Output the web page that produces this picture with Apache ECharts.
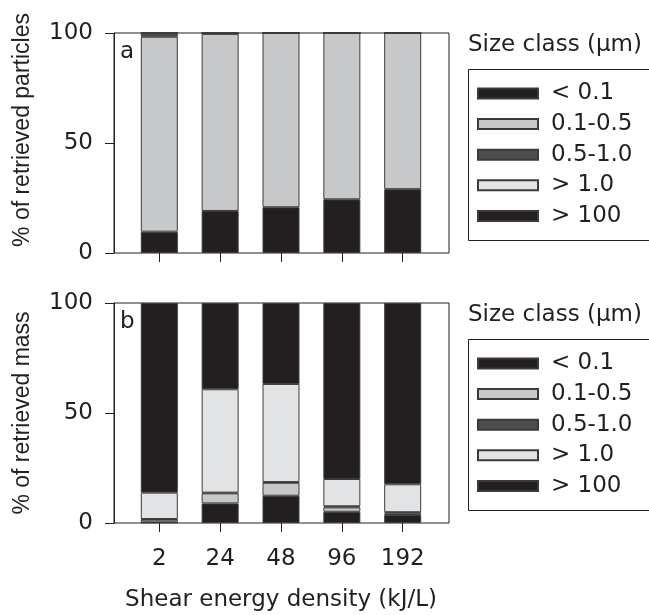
<!DOCTYPE html>
<html lang="en">
<head>
    <meta charset="utf-8">
    <title>Size class distribution</title>
    <script src="https://cdn.jsdelivr.net/npm/echarts@6/dist/echarts.min.js"></script>
    <style>
        html, body { margin: 0; padding: 0; background: #fff; }
        #container { width: 649px; height: 615px; }
    </style>
</head>
<body>
<div id="container"></div>
<script type="text/javascript">
    // categories
    var energies = ['2', '24', '48', '96', '192'];
    var sizeClasses = ['< 0.1', '0.1-0.5', '0.5-1.0', '> 1.0', '> 100'];

    // panel a: % of retrieved particles
    var partLt01 = [9.7, 19.1, 20.8, 24.4, 29.0];
    var part01to05 = [88.6, 80.5, 79.2, 75.6, 71.0];
    var part05to10 = [1.7, 0.4, 0, 0, 0];
    var partGt10 = [0, 0, 0, 0, 0];
    var partGt100 = [0, 0, 0, 0, 0];

    // panel b: % of retrieved mass
    var massLt01 = [0.3, 8.9, 12.4, 5.1, 3.6];
    var mass01to05 = [1.2, 4.6, 5.9, 2.0, 0.8];
    var mass05to10 = [0.3, 0.3, 0.3, 0.5, 0.5];
    var massGt10 = [12.0, 47.0, 44.6, 12.4, 12.7];
    var massGt100 = [86.2, 39.2, 36.8, 80.0, 82.4];

    var colors = ['#231f20', '#c7c8ca', '#4d4d4f', '#e2e3e4', '#231f20'];
    var ink = '#231f20';
    var hFont = 'DejaVu Sans';
    var vFont = 'Liberation Sans';

    var dom = document.getElementById('container');
    var myChart = echarts.init(dom, null, {renderer: 'canvas'});

    // frame box is wider than the category bands, so each panel has
    // an outer "frame" grid (y axis + box) and an inner grid for the bars
    var frameLeft = 114, frameWidth = 335, band = 60.85;
    var barsLeft = 159.3 - band / 2;
    var panelTops = [33, 303];
    var plotH = 220;

    function makeSeries(axisIdx, arrays) {
        return arrays.map(function (arr, k) {
            return {
                name: sizeClasses[k],
                type: 'bar',
                stack: 'p' + axisIdx,
                xAxisIndex: axisIdx,
                yAxisIndex: axisIdx,
                barWidth: 37,
                data: arr,
                itemStyle: {color: colors[k], borderColor: '#3a3a3a', borderWidth: 1},
                emphasis: {disabled: true}
            };
        });
    }

    var grids = [], xAxes = [], yAxes = [];
    panelTops.forEach(function (top, p) {
        grids.push({left: frameLeft, top: top, width: frameWidth, height: plotH, show: true, borderColor: ink, borderWidth: 1});
        grids.push({left: barsLeft, top: top, width: band * energies.length, height: plotH});

        // frame grid axes
        xAxes.push({type: 'value', gridIndex: 2 * p, min: 0, max: 1, show: false});
        yAxes.push({
            type: 'value', gridIndex: 2 * p, min: 0, max: 100, interval: 50,
            splitLine: {show: false},
            axisLine: {show: true, lineStyle: {color: ink, width: 1}},
            axisTick: {show: true, length: 9, lineStyle: {color: ink}},
            axisLabel: {margin: 21, fontFamily: hFont, fontSize: 23, color: ink}
        });
        // bar grid axes
        xAxes.push({
            type: 'category', gridIndex: 2 * p + 1, data: energies,
            axisLine: {show: false},
            axisTick: {show: true, alignWithLabel: true, length: 9, lineStyle: {color: ink}},
            axisLabel: {show: p === 1, margin: 25, fontFamily: hFont, fontSize: 23, color: ink}
        });
        yAxes.push({type: 'value', gridIndex: 2 * p + 1, min: 0, max: 100, show: false});
    });

    function makeLegend(top) {
        return {
            data: sizeClasses,
            orient: 'vertical',
            left: 477,
            top: top,
            padding: 0,
            itemWidth: 60,
            itemHeight: 10,
            itemGap: 7.6,
            icon: 'rect',
            selectedMode: false,
            textStyle: {fontFamily: hFont, fontSize: 23, color: ink, padding: [0, 0, 0, 8]}
        };
    }

    var txt = function (s, f) { return {text: s, font: '23px "' + (f || hFont) + '"', fill: ink}; };

    var option = {
        animation: false,
        backgroundColor: '#fff',
        grid: grids,
        xAxis: xAxes,
        yAxis: yAxes,
        legend: [makeLegend(82), makeLegend(352)],
        series: makeSeries(1, [partLt01, part01to05, part05to10, partGt10, partGt100])
            .concat(makeSeries(3, [massLt01, mass01to05, mass05to10, massGt10, massGt100])),
        graphic: [
            // legend frames (run off the right edge, like the reference)
            {type: 'rect', shape: {x: 468.5, y: 69.5, width: 220, height: 171}, style: {fill: 'none', stroke: ink, lineWidth: 1}},
            {type: 'rect', shape: {x: 468.5, y: 339.5, width: 220, height: 171}, style: {fill: 'none', stroke: ink, lineWidth: 1}},
            {type: 'text', x: 468, y: 45, style: Object.assign(txt('Size class (μm)'), {textVerticalAlign: 'middle'})},
            {type: 'text', x: 468, y: 315, style: Object.assign(txt('Size class (μm)'), {textVerticalAlign: 'middle'})},
            // panel letters
            {type: 'text', x: 120, y: 52, style: Object.assign(txt('a'), {textVerticalAlign: 'middle'})},
            {type: 'text', x: 120, y: 322, style: Object.assign(txt('b'), {textVerticalAlign: 'middle'})},
            // axis titles
            {type: 'text', x: 23, y: 130, rotation: Math.PI / 2,
                style: Object.assign(txt('% of retrieved particles', vFont), {textAlign: 'center', textVerticalAlign: 'middle'})},
            {type: 'text', x: 23, y: 413, rotation: Math.PI / 2,
                style: Object.assign(txt('% of retrieved mass', vFont), {textAlign: 'center', textVerticalAlign: 'middle'})},
            {type: 'text', x: 281, y: 600,
                style: Object.assign(txt('Shear energy density (kJ/L)'), {textAlign: 'center', textVerticalAlign: 'middle'})}
        ]
    };

    myChart.setOption(option);
    window.addEventListener('resize', myChart.resize);
</script>
</body>
</html>
